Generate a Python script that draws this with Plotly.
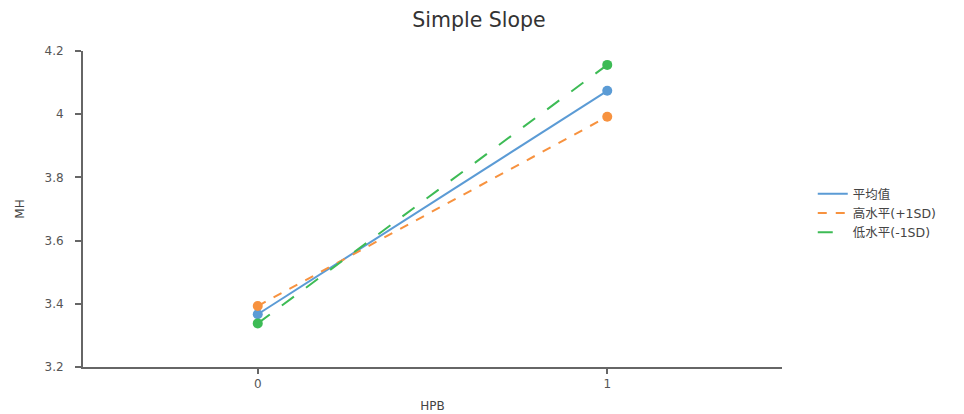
import plotly.graph_objects as go

x_vals = [0, 1]
x_ticklabels = ["0", "1"]
series_names = ["平均值", "高水平(+1SD)", "低水平(-1SD)"]
mean_vals = [3.367, 4.074]
high_vals = [3.393, 3.992]
low_vals = [3.338, 4.156]
y_ticks = [3.2, 3.4, 3.6, 3.8, 4.0, 4.2]

colors = ["#5b9bd5", "#f7923f", "#3dbb55"]
dashes = ["solid", "dash", "longdash"]
values = [mean_vals, high_vals, low_vals]

fig = go.Figure()
for i, (name, vals, c, d) in enumerate(zip(series_names, values, colors, dashes)):
    fig.add_trace(go.Scatter(
        x=x_vals, y=vals, name=name, mode="lines",
        line=dict(color=c, width=2, dash=d),
    ))
for i, (name, vals, c) in enumerate(zip(series_names, values, colors)):
    fig.add_trace(go.Scatter(
        x=x_vals, y=vals, name=name, mode="markers",
        showlegend=False, marker=dict(color=c, size=10),
    ))

latin = "DejaVu Sans, Noto Sans CJK SC, sans-serif"
fig.update_layout(
    width=964, height=414,
    margin=dict(l=75, r=190, t=43, b=55),
    paper_bgcolor="white", plot_bgcolor="white",
    font=dict(family=latin, size=12, color="#555555"),
    title=dict(text="Simple Slope", x=0.4886, xref="container", y=0.971, yref="container",
               xanchor="center", yanchor="middle",
               font=dict(size=20.5, color="#333333", family=latin)),
    legend=dict(x=1.044, y=0.487, xanchor="left", yanchor="middle",
                font=dict(size=12.5, color="#444444", family=latin),
                tracegroupgap=0, bgcolor="rgba(0,0,0,0)"),
    showlegend=True,
)
fig.update_xaxes(
    range=[-0.5, 1.5], tickvals=x_vals, ticktext=x_ticklabels, automargin=False,
    showgrid=False, zeroline=False, showline=True, linecolor="#666666", linewidth=2,
    ticks="outside", ticklen=5, tickwidth=1.5, tickcolor="#666666",
    title=dict(text="HPB", font=dict(size=12, color="#444444"), standoff=11),
    tickfont=dict(size=12, color="#555555"),
)
fig.update_yaxes(
    range=[3.2, 4.2], tickvals=y_ticks, automargin=False,
    showgrid=False, zeroline=False, showline=True, linecolor="#666666", linewidth=2,
    ticks="outside", ticklen=6, tickwidth=1.5, tickcolor="#666666",
    ticklabelstandoff=9,
    title=dict(text="MH", font=dict(size=12, color="#444444"), standoff=17),
    tickfont=dict(size=12, color="#555555"),
)

fig.write_html("out.html")
